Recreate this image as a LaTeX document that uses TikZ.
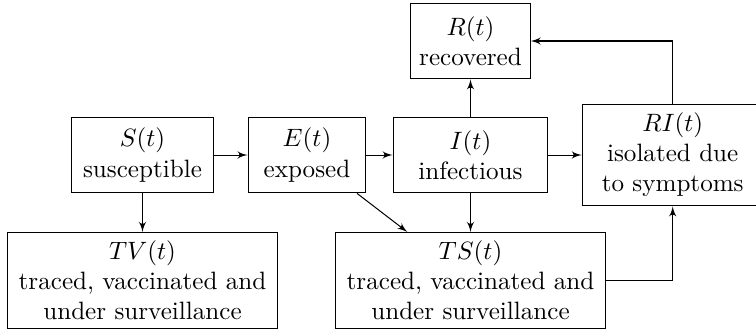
\documentclass[tikz,border=0pt]{standalone}
\usepackage{amsmath}
\usepackage{tikz}
\usetikzlibrary{
  positioning,
  arrows.meta,
  arrows
}

\begin{document}
\begin{tikzpicture}[>=latex',x=0.3984pt,y=-0.3984pt,
        compartment/.style={draw,align=center,minimum height=30.2pt},
        tallbox/.style={compartment,minimum height=37.8pt,minimum width=107.2pt}]
        \useasboundingbox (0,0) rectangle (756,331);
        \node[compartment,minimum width=56.9pt] (S) at (142.5,155) {$S(t)$\\susceptible};
        \node[compartment,minimum width=47pt] (E) at (307,155) {$E(t)$\\exposed};
        \node[compartment,minimum width=61.7pt] (I) at (470.5,155) {$I(t)$\\infectious};
        \node[compartment,minimum width=47pt] (R) at (470.5,41) {$R(t)$\\recovered};
        \node[compartment,minimum width=72.1pt,minimum height=40.6pt] (RI) at (672.7,155) {$RI(t)$\\isolated due\\to symptoms};
        \node[tallbox] (TS) at (470.5,280.5) {$TS(t)$\\traced, vaccinated and\\under surveillance};
        \node[tallbox] (TV) at (142.5,280.5) {$TV(t)$\\traced, vaccinated and\\under surveillance};
        \draw[->] (S) -- (E);
        \draw[->] (E) -- (I);
        \draw[->] (I) -- (RI);
        \draw[->] (I) -- (R);
        \draw[->] (I) -- (TS);
        \draw[->] (S) -- (TV);
        \draw[->] (E) -- (TS);
        \draw[->] (RI) |- (R);
        \draw[->] (TS) -| (RI);
    \end{tikzpicture}
\end{document}
